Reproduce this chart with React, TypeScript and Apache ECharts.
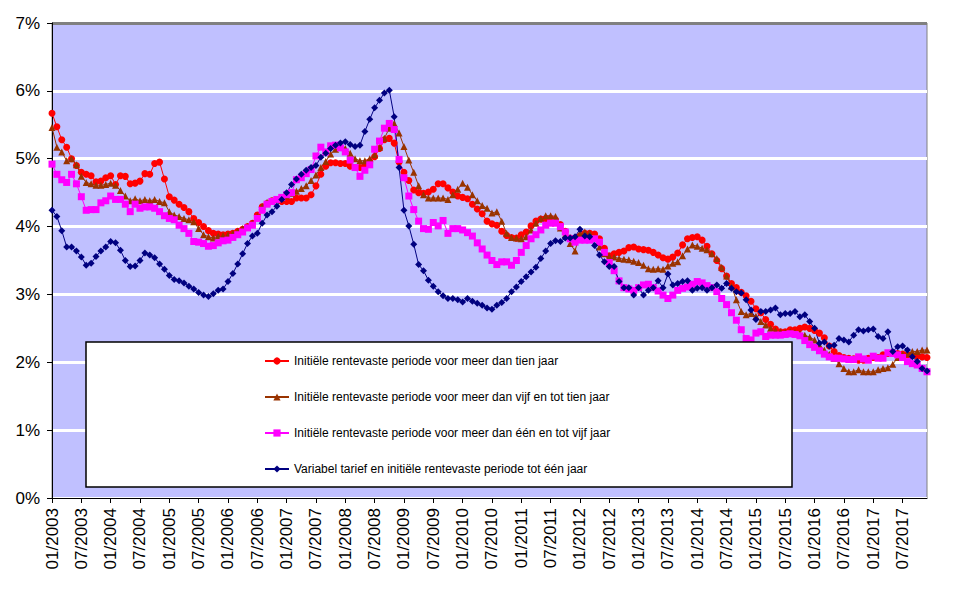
import React, { useEffect, useRef } from "react";
import * as echarts from "echarts";

const years = [2003, 2004, 2005, 2006, 2007, 2008, 2009, 2010, 2011, 2012, 2013, 2014, 2015, 2016, 2017];
const monthCodes = ["01", "02", "03", "04", "05", "06", "07", "08", "09", "10", "11", "12"];
const categories: string[] = [];
years.forEach((y) => monthCodes.forEach((m) => categories.push(`${m}/${y}`)));

const yTicks = [0, 1, 2, 3, 4, 5, 6, 7];

const seriesNames = [
  "Initiële rentevaste periode voor meer dan tien jaar",
  "Initiële rentevaste periode voor meer dan vijf en tot tien jaar",
  "Initiële rentevaste periode voor meer dan één en tot vijf jaar",
  "Variabel tarief en initiële rentevaste periode tot één jaar",
];

const tienJaar = [
  5.67, 5.47, 5.28, 5.17, 5.0, 4.9, 4.8, 4.77, 4.75, 4.66, 4.67, 4.72,
  4.75, 4.62, 4.75, 4.74, 4.63, 4.64, 4.67, 4.78, 4.77, 4.93, 4.95, 4.7,
  4.44, 4.39, 4.33, 4.28, 4.22, 4.12, 4.06, 4.0, 3.94, 3.9, 3.89, 3.88,
  3.89, 3.9, 3.93, 3.96, 4.0, 4.05, 4.17, 4.29, 4.34, 4.38, 4.4, 4.37,
  4.37, 4.37, 4.42, 4.42, 4.42, 4.47, 4.6, 4.77, 4.89, 4.94, 4.94, 4.93,
  4.93, 4.89, 4.87, 4.87, 4.9, 4.96, 5.03, 5.15, 5.28, 5.3, 5.23, 4.95,
  4.8, 4.68, 4.54, 4.5, 4.49, 4.51, 4.55, 4.63, 4.63, 4.57, 4.51, 4.45,
  4.43, 4.41, 4.33, 4.26, 4.19, 4.08, 4.04, 4.02, 3.93, 3.87, 3.84, 3.83,
  3.88, 3.92, 4.01, 4.08, 4.11, 4.12, 4.12, 4.1, 4.03, 3.93, 3.83, 3.82,
  3.86, 3.9, 3.9, 3.89, 3.82, 3.68, 3.57, 3.6, 3.62, 3.64, 3.69, 3.7,
  3.67, 3.66, 3.65, 3.62, 3.58, 3.54, 3.52, 3.55, 3.61, 3.73, 3.82, 3.84,
  3.85, 3.8, 3.71, 3.6, 3.5, 3.38, 3.27, 3.16, 3.1, 3.03, 2.98, 2.9,
  2.79, 2.73, 2.63, 2.56, 2.49, 2.45, 2.45, 2.48, 2.48, 2.5, 2.52, 2.5,
  2.47, 2.43, 2.36, 2.24, 2.16, 2.1, 2.07, 2.06, 2.05, 2.03, 2.03, 2.06,
  2.07, 2.07, 2.11, 2.13, 2.14, 2.13, 2.12, 2.11, 2.1, 2.09, 2.08, 2.07,
];

const vijfTotTien = [
  5.46, 5.17, 5.1, 4.97, 5.0, 4.91, 4.74, 4.65, 4.63, 4.61, 4.61, 4.62,
  4.64, 4.61, 4.53, 4.45, 4.38, 4.41, 4.38, 4.4, 4.38, 4.4, 4.37, 4.35,
  4.22, 4.17, 4.15, 4.12, 4.1, 4.07, 3.97, 3.88, 3.85, 3.83, 3.86, 3.87,
  3.88, 3.9, 3.93, 3.97, 4.0, 4.05, 4.15, 4.3, 4.36, 4.38, 4.4, 4.42,
  4.45, 4.49, 4.52, 4.56, 4.6, 4.68, 4.76, 4.87, 4.96, 5.07, 5.14, 5.17,
  5.15, 5.08, 5.0, 4.97, 4.97, 5.0, 5.06, 5.17, 5.3, 5.45, 5.52, 5.38,
  5.18, 4.98, 4.8, 4.6, 4.47, 4.42, 4.42, 4.42, 4.42, 4.4, 4.47, 4.55,
  4.64, 4.58, 4.47, 4.38, 4.31, 4.27, 4.2, 4.22, 4.08, 3.9, 3.84, 3.83,
  3.82, 3.85, 3.95, 4.05, 4.12, 4.16, 4.16, 4.15, 3.98, 3.88, 3.75, 3.64,
  3.9, 3.92, 3.9, 3.83, 3.7, 3.6, 3.56, 3.55, 3.53, 3.52, 3.51, 3.49,
  3.47, 3.43, 3.38, 3.37, 3.38, 3.37, 3.42, 3.46, 3.48, 3.57, 3.67, 3.73,
  3.71, 3.68, 3.66, 3.6, 3.53, 3.4, 3.27, 3.12, 2.92, 2.75, 2.7, 2.72,
  2.68, 2.6, 2.55, 2.5, 2.47, 2.45, 2.44, 2.45, 2.44, 2.42, 2.4, 2.37,
  2.33, 2.25, 2.18, 2.12, 2.06, 1.98, 1.91, 1.86, 1.86, 1.89, 1.86, 1.86,
  1.86, 1.89, 1.91, 1.92, 1.97, 2.07, 2.11, 2.13, 2.16, 2.16, 2.18, 2.18,
];

const eenTotVijf = [
  4.92, 4.77, 4.69, 4.65, 4.77, 4.63, 4.44, 4.24, 4.25, 4.25, 4.35, 4.38,
  4.45, 4.4, 4.4, 4.33, 4.22, 4.33, 4.27, 4.29, 4.29, 4.27, 4.22, 4.16,
  4.12, 4.1, 4.02, 3.97, 3.9, 3.78, 3.77, 3.75, 3.71, 3.72, 3.76, 3.79,
  3.8, 3.84, 3.88, 3.92, 3.98, 4.02, 4.12, 4.24, 4.33, 4.37, 4.4, 4.43,
  4.47, 4.5, 4.69, 4.72, 4.78, 4.84, 5.04, 5.17, 5.1, 5.19, 5.2, 5.16,
  5.1, 4.98, 4.87, 4.74, 4.83, 4.91, 5.14, 5.26, 5.45, 5.52, 5.43, 4.99,
  4.72, 4.45, 4.25, 4.08, 3.97, 3.96, 4.06, 4.01, 4.09, 3.9, 3.97, 3.97,
  3.95, 3.91, 3.86, 3.76, 3.67, 3.58, 3.5, 3.44, 3.48, 3.48, 3.43, 3.5,
  3.62, 3.72, 3.82, 3.88, 3.95, 4.02, 4.05, 4.05, 4.0, 3.92, 3.82, 3.77,
  3.8, 3.8, 3.8, 3.82, 3.77, 3.62, 3.47, 3.35, 3.2, 3.1, 3.08, 3.06,
  3.1, 3.14, 3.15, 3.1, 3.05, 2.99, 2.94, 2.99, 3.06, 3.09, 3.11, 3.15,
  3.19, 3.17, 3.13, 3.1, 3.04, 2.94, 2.85, 2.73, 2.62, 2.48, 2.35, 2.33,
  2.43, 2.45, 2.38, 2.4, 2.4, 2.4, 2.41, 2.42, 2.41, 2.39, 2.32, 2.26,
  2.22, 2.17, 2.12, 2.08, 2.06, 2.06, 2.05, 2.04, 2.04, 2.08, 2.05, 2.03,
  2.09, 2.06, 2.06, 2.14, 2.13, 2.11, 2.07, 2.01, 1.98, 1.96, 1.91, 1.86,
];

const variabel = [
  4.24, 4.15, 3.94, 3.7, 3.7, 3.64, 3.55, 3.43, 3.46, 3.56, 3.64, 3.7,
  3.78, 3.76, 3.65, 3.5, 3.41, 3.42, 3.5, 3.61, 3.58, 3.54, 3.45, 3.37,
  3.28, 3.22, 3.2, 3.17, 3.12, 3.08, 3.03, 2.99, 2.97, 3.01, 3.06, 3.08,
  3.19, 3.31, 3.45, 3.6, 3.75, 3.86, 3.9, 4.05, 4.17, 4.22, 4.3, 4.4,
  4.5, 4.62, 4.7, 4.77, 4.83, 4.87, 4.9, 5.02, 5.08, 5.15, 5.2, 5.23,
  5.25, 5.21, 5.18, 5.2, 5.4, 5.58, 5.75, 5.86, 5.97, 6.01, 5.62, 4.87,
  4.24, 4.01, 3.74, 3.44, 3.35, 3.21, 3.12, 3.04, 2.98, 2.94, 2.94, 2.92,
  2.89, 2.94, 2.9, 2.87, 2.84, 2.8, 2.78, 2.84, 2.88, 2.94, 3.04, 3.11,
  3.19, 3.26, 3.33, 3.4, 3.53, 3.64, 3.75, 3.79, 3.78, 3.83, 3.83, 3.85,
  3.96, 3.86, 3.85, 3.72, 3.58, 3.48, 3.41, 3.41, 3.19, 3.1, 3.1, 2.99,
  3.1, 2.99, 3.06, 3.1, 3.2, 3.1, 3.3, 3.14, 3.16, 3.19, 3.2, 3.06,
  3.09, 3.1, 3.06, 3.1, 3.14, 3.09, 3.16, 3.09, 3.04, 3.02, 2.92, 2.77,
  2.63, 2.75, 2.75, 2.77, 2.8, 2.7, 2.72, 2.72, 2.75, 2.67, 2.7, 2.6,
  2.5, 2.28, 2.3, 2.24, 2.25, 2.35, 2.33, 2.3, 2.4, 2.48, 2.46, 2.48,
  2.49, 2.38, 2.35, 2.45, 2.16, 2.23, 2.24, 2.18, 2.08, 2.01, 1.91, 1.87,
];

const FONT = "'Liberation Sans', Arial, Helvetica, sans-serif";

export default function App() {
  const ref = useRef<HTMLDivElement>(null);

  useEffect(() => {
    if (!ref.current) return;
    const chart = echarts.init(ref.current, null, { renderer: "svg" });
    const every6 = (i: number) => i % 6 === 0;
    const mk = (name: string, data: number[], color: string, symbol: string, size: number) => ({
      name,
      type: "line",
      data,
      symbol,
      symbolSize: size,
      showSymbol: true,
      showAllSymbol: true,
      lineStyle: { color, width: 1 },
      itemStyle: { color, borderWidth: 0 },
      emphasis: { disabled: true },
    });
    chart.setOption({
      animation: false,
      backgroundColor: "#ffffff",
      grid: {
        left: 52,
        right: 40,
        top: 23,
        bottom: 91,
        show: true,
        backgroundColor: "#C0C0FF",
        borderColor: "#808080",
        borderWidth: 1,
      },
      xAxis: {
        type: "category",
        data: categories,
        boundaryGap: false,
        axisLine: { show: true, lineStyle: { color: "#000", width: 1 } },
        axisTick: { show: true, interval: every6, length: 5, lineStyle: { color: "#000" } },
        axisLabel: {
          interval: every6,
          rotate: 90,
          margin: 10,
          color: "#000",
          fontSize: 17,
          fontFamily: FONT,
        },
        splitLine: { show: false },
      },
      yAxis: {
        type: "value",
        min: yTicks[0],
        max: yTicks[yTicks.length - 1],
        interval: 1,
        axisLine: { show: true, lineStyle: { color: "#000", width: 1 } },
        axisTick: { show: true, length: 5, lineStyle: { color: "#000" } },
        axisLabel: {
          formatter: (v: number) => `${v}%`,
          color: "#000",
          fontSize: 17,
          fontFamily: FONT,
          margin: 12,
        },
        splitLine: {
          show: true,
          lineStyle: {
            color: ["#ffffff", "#ffffff", "#ffffff", "#ffffff", "#ffffff", "#ffffff", "#ffffff", "#808080"],
            width: 3,
          },
        },
      },
      legend: {
        show: true,
        orient: "vertical",
        left: 264,
        top: 354,
        padding: 0,
        itemWidth: 24,
        itemHeight: 9,
        itemGap: 22,
        z: 20,
        selectedMode: false,
        textStyle: { fontSize: 12, fontFamily: FONT, color: "#000", lineHeight: 14 },
        data: seriesNames,
      },
      graphic: [
        {
          type: "rect",
          z: 10,
          shape: { x: 86, y: 342, width: 706, height: 145 },
          style: { fill: "#ffffff", stroke: "#000000", lineWidth: 1.5 },
        },
      ],
      series: [
        mk(seriesNames[0], tienJaar, "#FF0000", "circle", 7),
        mk(seriesNames[1], vijfTotTien, "#993300", "triangle", 7),
        mk(seriesNames[2], eenTotVijf, "#FF00FF", "rect", 7),
        mk(seriesNames[3], variabel, "#000080", "diamond", 7),
      ],
    });
    return () => chart.dispose();
  }, []);

  return (
    <div
      ref={ref}
      style={{ position: "fixed", left: 0, top: 0, width: 967, height: 589, background: "#fff" }}
    />
  );
}
